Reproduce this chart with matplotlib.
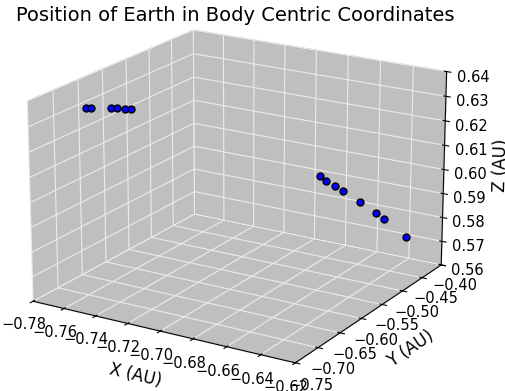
import numpy as np
import matplotlib
matplotlib.use("Agg")
import matplotlib.pyplot as plt

# Earth positions (AU) relative to the body, two observation windows
x_au = [-0.7681, -0.7656, -0.7571, -0.7544, -0.7501, -0.7465,
        -0.672, -0.671, -0.669, -0.667, -0.6605, -0.6538, -0.6508, -0.6388]
y_au = [-0.673, -0.670, -0.657, -0.6535, -0.6516, -0.6493,
        -0.498, -0.485, -0.472, -0.461, -0.4445, -0.430, -0.4214, -0.414]
z_au = [0.632, 0.632, 0.632, 0.632, 0.632, 0.632,
        0.600, 0.597, 0.594, 0.591, 0.5855, 0.5805, 0.5773, 0.5708]

fig = plt.figure(figsize=(5.06, 3.91), dpi=100)
ax = fig.add_axes([-0.086, -0.081, 1.1, 1.18], projection='3d')
ax.view_init(elev=19, azim=-58.8)
ax.set_box_aspect((4.2, 4.2, 2.9), zoom=0.997)

ax.scatter(x_au, y_au, z_au, c='blue', edgecolors='black', s=25, depthshade=False)

# grey panes with light grid
pane = (0.5, 0.5, 0.5, 0.5)
for axis in (ax.xaxis, ax.yaxis, ax.zaxis):
    axis.set_pane_color(pane)
    axis._axinfo['grid']['color'] = (0.92, 0.92, 0.92, 1)

ax.set_xlim(-0.78, -0.62)
ax.set_ylim(-0.75, -0.40)
ax.set_zlim(0.56, 0.64)
ax.set_xticks(np.arange(-0.78, -0.619, 0.02))
ax.set_yticks(np.arange(-0.75, -0.399, 0.05))
ax.set_zticks(np.arange(0.56, 0.641, 0.01))
ax.tick_params(axis='x', labelsize=10.5, pad=1.5)
ax.tick_params(axis='y', labelsize=10.5, pad=1.5)
ax.tick_params(axis='z', labelsize=10.5, pad=3.5)

ax.set_xlabel('X (AU)', fontsize=12)
ax.set_ylabel('Y (AU)', fontsize=12)
ax.set_zlabel('Z (AU)', fontsize=12)
fig.text(0.465, 0.96, 'Position of Earth in Body Centric Coordinates',
         fontsize=14, ha='center', va='center')

fig.savefig('out.png', dpi=100)
